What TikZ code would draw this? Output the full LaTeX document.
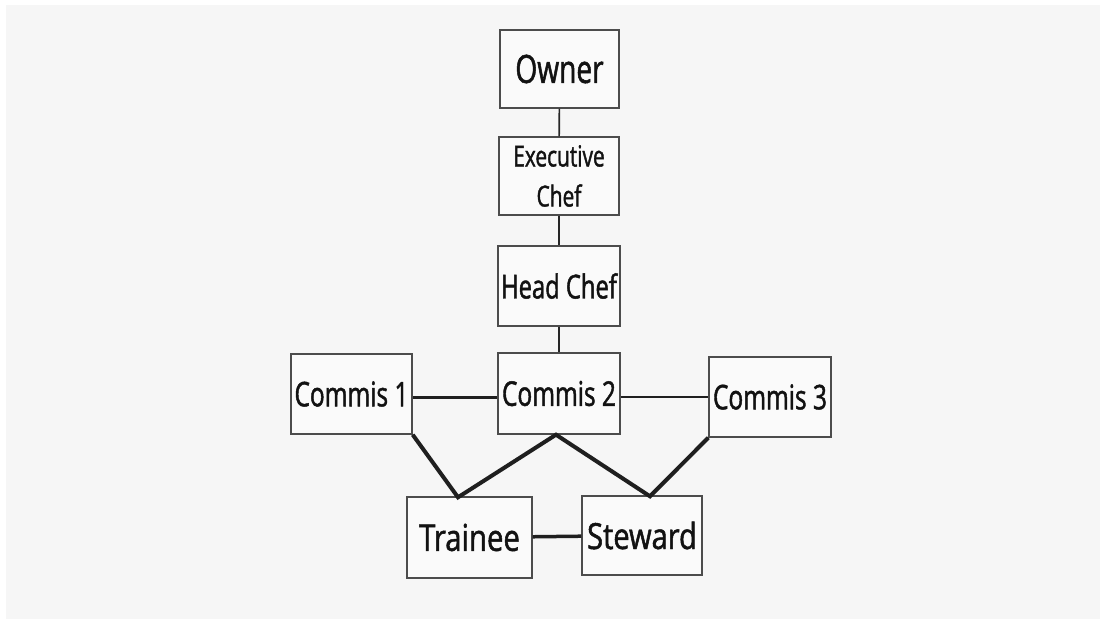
\documentclass[tikz,border=0pt]{standalone}
\usepackage{fontspec}
\setmainfont{Open Sans}[FakeStretch=0.72,FakeBold=1.3]
\begin{document}
\begin{tikzpicture}[x=1pt,y=-1pt,
  box/.style={draw=black!70,line width=1.4pt,fill=white!50!black!4,inner sep=0pt,
    text=black!93,align=center},
  thin/.style={draw=black!85,line width=1.6pt},
  thick/.style={draw=black!88,line width=4pt,line join=miter},
  mid/.style={draw=black!88,line width=2.8pt}]
\useasboundingbox (0,0) rectangle (1106,624);
\fill[white] (0,0) rectangle (1106,624);
\fill[black!3.5] (6,5) rectangle (1100,619);
\node[box,minimum width=119pt,minimum height=78pt,font=\fontsize{39}{42}\selectfont] (own) at (559.5,69) {Owner};
\node[box,minimum width=120pt,minimum height=78pt,font=\fontsize{29}{40}\selectfont] (exe) at (559,176) {Executive\\Chef};
\node[box,minimum width=122pt,minimum height=80pt,font=\fontsize{33}{36}\selectfont] (head) at (559,286) {Head Chef};
\node[box,minimum width=121pt,minimum height=80pt,font=\fontsize{34}{36}\selectfont] (c1) at (351.5,394) {Commis 1};
\node[box,minimum width=122pt,minimum height=81pt,font=\fontsize{34}{36}\selectfont] (c2) at (559,393.5) {Commis 2};
\node[box,minimum width=122pt,minimum height=80pt,font=\fontsize{34}{36}\selectfont] (c3) at (770,397) {Commis 3};
\node[box,minimum width=125pt,minimum height=81pt,font=\fontsize{37}{40}\selectfont] (tr) at (469.5,537.5) {\scalebox{1.1}[1]{Trainee}};
\node[box,minimum width=120pt,minimum height=79pt,font=\fontsize{36}{40}\selectfont] (st) at (642,535.5) {\scalebox{1.12}[1]{Steward}};
\coordinate (tp) at ([xshift=-11.5pt,yshift=-1pt]tr.north);
\coordinate (sp) at ([xshift=8pt,yshift=-1pt]st.north);
\coordinate (c2b) at ([xshift=-3pt]c2.south);
\coordinate (l12) at ([yshift=-3.5pt]c1.east);
\coordinate (l23) at ([yshift=-3.5pt]c2.east);
\draw[thin] (own) -- (exe);
\draw[thin] (exe) -- (head);
\draw[thin] (head) -- (c2);
\draw[mid] (l12) -- (l12 -| c2.west);
\draw[mid] (l23) -- (l23 -| c3.west);
\draw[thick] (c1.south east) -- (tp) -- (c2b) -- (sp) -- (c3.south west);
\draw[mid,line width=3.5pt] (tr) -- (st);
\end{tikzpicture}
\end{document}
